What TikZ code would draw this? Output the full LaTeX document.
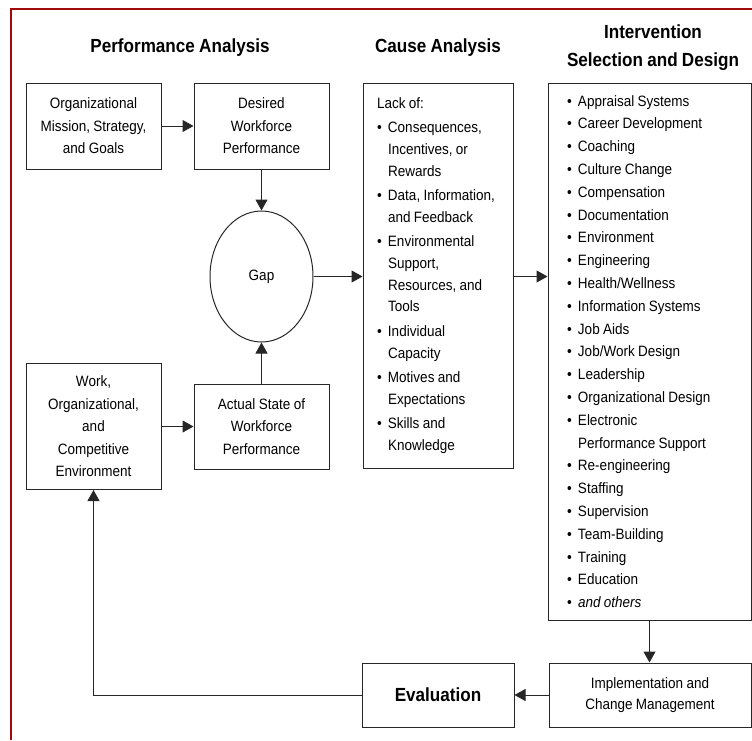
\documentclass[tikz,border=0pt]{standalone}
\usepackage{fontspec}
\setmainfont{Liberation Sans}[FakeStretch=0.9, WordSpace=0.9]
\usetikzlibrary{arrows.meta,shapes.geometric}
\definecolor{framered}{RGB}{160,10,10}

% bullet and hanging indent for the lists
\newcommand{\bul}{\makebox[11pt][l]{\textbullet}}
\newcommand{\ind}{\hspace*{11pt}}

\tikzset{
  box/.style={draw=black!85, line width=1pt, inner sep=0pt, align=center,
    font=\fontsize{15}{22.5}\selectfont},
  listbox/.style={box, align=flush left},
  head/.style={align=center, font=\fontsize{19}{28}\selectfont\bfseries},
  flow/.style={draw=black!85, line width=1pt, -{Triangle[length=11pt,width=12pt]}},
}

\begin{document}
\begin{tikzpicture}[x=1pt,y=-1pt]
\useasboundingbox (0,0) rectangle (752,740);

% frame
\draw[framered, line width=2.5pt] (11,740) -- (11,9) -- (752,9);

% column heads
\node[head] (perfhead)  at (180,48) {Performance Analysis};
\node[head] (causehead) at (438,48) {Cause Analysis};
\node[head] (intvhead)  at (653,48) {Intervention\\Selection and Design};

% performance analysis
\node[box, minimum width=135pt, minimum height=86pt] (mission) at (93.5,126)
  {Organizational\\Mission, Strategy,\\and Goals};
\node[box, minimum width=135pt, minimum height=86pt] (desired) at (261.5,126)
  {Desired\\Workforce\\Performance};
\node[box, ellipse, minimum width=103pt, minimum height=131pt] (gap) at (261.5,276.5) {Gap};
\node[box, minimum width=135pt, minimum height=126pt] (work) at (93.5,426.5)
  {Work,\\Organizational,\\and\\Competitive\\Environment};
\node[box, minimum width=135pt, minimum height=85pt] (actual) at (261.5,426.5)
  {Actual State of\\Workforce\\Performance};

% cause analysis
\node[listbox, text width=122pt, inner xsep=14pt, minimum height=385pt,
  font=\fontsize{15}{21.7}\selectfont] (cause) at (438,275.5)
  {Lack of:\\[2.8pt]
   \bul Consequences,\\ \ind Incentives, or\\ \ind Rewards\\[2.8pt]
   \bul Data, Information,\\ \ind and Feedback\\[2.8pt]
   \bul Environmental\\ \ind Support,\\ \ind Resources, and\\ \ind Tools\\[2.8pt]
   \bul Individual\\ \ind Capacity\\[2.8pt]
   \bul Motives and\\ \ind Expectations\\[2.8pt]
   \bul Skills and\\ \ind Knowledge};

% intervention selection and design
\node[listbox, text width=165pt, inner xsep=19pt, minimum height=537pt,
  font=\fontsize{15}{22.8}\selectfont] (interv) at (649.5,351.5)
  {\bul Appraisal Systems\\ \bul Career Development\\ \bul Coaching\\
   \bul Culture Change\\ \bul Compensation\\ \bul Documentation\\
   \bul Environment\\ \bul Engineering\\ \bul Health/Wellness\\
   \bul Information Systems\\ \bul Job Aids\\ \bul Job/Work Design\\
   \bul Leadership\\ \bul Organizational Design\\ \bul Electronic\\
   \ind Performance Support\\ \bul Re-engineering\\ \bul Staffing\\
   \bul Supervision\\ \bul Team-Building\\ \bul Training\\
   \bul Education\\ \bul \textit{and others}};

% implementation and evaluation
\node[box, minimum width=202pt, minimum height=64pt, font=\fontsize{15}{21}\selectfont]
  (impl) at (650,695) {Implementation and\\Change Management};
\node[box, minimum width=152pt, minimum height=64pt, font=\fontsize{19}{24}\selectfont\bfseries]
  (eval) at (438,695) {Evaluation};

% connectors
\draw[flow] (mission) -- (desired);
\draw[flow] (desired) -- (gap);
\draw[flow] (actual) -- (gap);
\draw[flow] (work) -- (actual);
\draw[flow] (gap) -- (gap -| cause.west);
\draw[flow] (gap -| cause.east) -- (gap -| interv.west);
\draw[flow] (interv.south) -- (interv.south |- impl.north);
\draw[flow] (impl) -- (eval);
\draw[flow] (eval) -| (work);

\end{tikzpicture}
\end{document}
